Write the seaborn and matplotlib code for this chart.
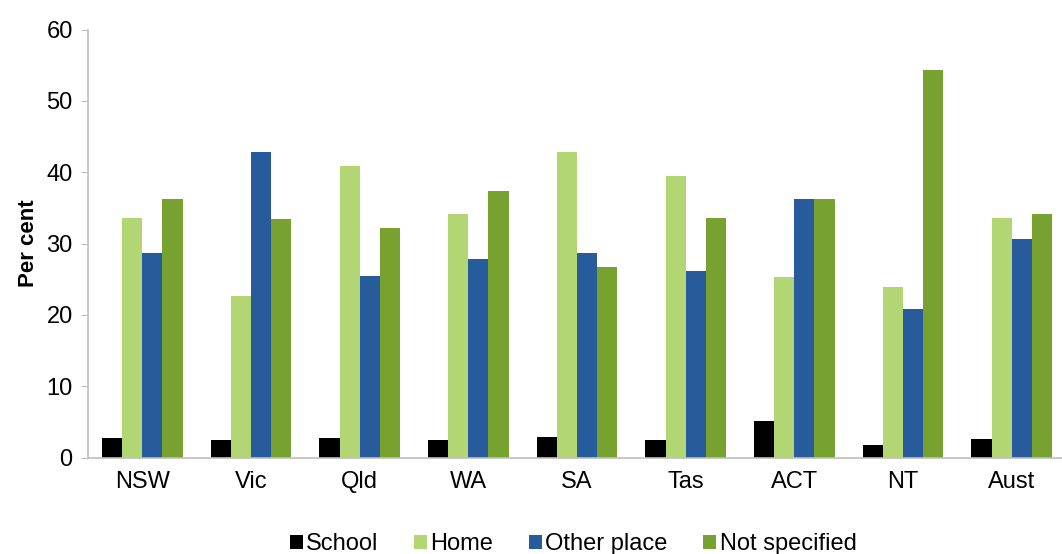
import pandas as pd
import matplotlib
matplotlib.use("Agg")
import matplotlib.pyplot as plt
import seaborn as sns

# values
states = ["NSW", "Vic", "Qld", "WA", "SA", "Tas", "ACT", "NT", "Aust"]
school = [2.7, 2.4, 2.7, 2.4, 2.9, 2.4, 5.1, 1.8, 2.6]
home = [33.6, 22.7, 40.9, 34.2, 42.8, 39.5, 25.3, 23.9, 33.6]
other_place = [28.6, 42.8, 25.5, 27.8, 28.6, 26.1, 36.2, 20.8, 30.6]
not_specified = [36.2, 33.4, 32.2, 37.3, 26.7, 33.6, 36.2, 54.3, 34.2]

series = ["School", "Home", "Other place", "Not specified"]
colours = ["#000000", "#b3d675", "#275b9b", "#78a22f"]

rows = []
for name, vals in zip(series, [school, home, other_place, not_specified]):
    for st, v in zip(states, vals):
        rows.append({"state": st, "place": name, "pct": v})
df = pd.DataFrame(rows)

sns.set_style("white")
plt.rcParams["font.family"] = ["Liberation Sans", "DejaVu Sans"]
plt.rcParams["text.color"] = "black"
plt.rcParams["axes.labelcolor"] = "black"
plt.rcParams["xtick.color"] = "black"
plt.rcParams["ytick.color"] = "black"

fig = plt.figure(figsize=(10.62, 5.54), dpi=100)
ax = fig.add_axes([88 / 1062, 1 - 457.5 / 554, (1066 - 88) / 1062, 428 / 554])

sns.barplot(data=df, x="state", y="pct", hue="place", hue_order=series,
            palette=colours, width=0.74, saturation=1, ax=ax,
            edgecolor="none", legend=True)

ax.set_ylim(0, 60)
ax.set_yticks(range(0, 61, 10))
ax.set_xlabel("")
ax.set_ylabel("Per cent", fontsize=16, fontweight="bold", labelpad=5)
ax.tick_params(axis="y", labelsize=17, length=5, color="#bfbfbf", left=True, pad=6)
ax.tick_params(axis="x", labelsize=17, length=0, pad=10)
for s in ["top", "right"]:
    ax.spines[s].set_visible(False)
for s in ["left", "bottom"]:
    ax.spines[s].set_color("#bfbfbf")
    ax.spines[s].set_linewidth(1.2)

ax.legend(loc="center", bbox_to_anchor=(573 / 1062, 1 - 544 / 554),
          bbox_transform=fig.transFigure, ncol=4, frameon=False,
          fontsize=17, handlelength=0.55, handleheight=0.55,
          handletextpad=0.15, columnspacing=1.5)

fig.savefig("out.png", dpi=100)
